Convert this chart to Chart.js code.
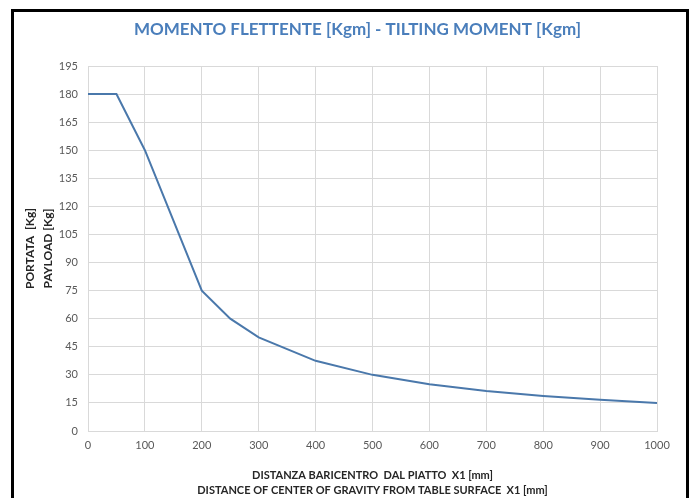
<!DOCTYPE html>
<html>
<head>
<meta charset="utf-8">
<script src="https://cdn.jsdelivr.net/npm/chart.js@4/dist/chart.umd.min.js"></script>
<style>
  html, body { margin: 0; padding: 0; background: #ffffff; }
  #frame { position: absolute; left: 11px; top: 9px; width: 672px; height: 500px; border: 3px solid #000; box-sizing: content-box; }
  #wrap { position: absolute; left: 0; top: 0; width: 690px; height: 498px; }
</style>
</head>
<body>
<div id="frame"></div>
<div id="wrap"><canvas id="c" width="690" height="498"></canvas></div>
<script>
const distances = [0, 50, 100, 200, 250, 300, 400, 500, 600, 700, 800, 900, 1000];
const payloads  = [180, 180, 150, 75, 60, 50, 37.5, 30, 25, 21.4, 18.75, 16.7, 15];
const chartTitle = 'MOMENTO FLETTENTE [Kgm] - TILTING MOMENT [Kgm]';
const yTitle = ['PORTATA  [Kg]', 'PAYLOAD [Kg]'];
const xTitle = ['DISTANZA BARICENTRO  DAL PIATTO  X1 [mm]', 'DISTANCE OF CENTER OF GRAVITY FROM TABLE SURFACE  X1 [mm]'];

const FONT = 'Lato, "Open Sans", sans-serif';
const points = distances.map((x, i) => ({ x: x, y: payloads[i] }));

new Chart(document.getElementById('c'), {
  type: 'line',
  data: {
    datasets: [{
      data: points,
      borderColor: '#4a78ab',
      borderWidth: 2,
      pointRadius: 0,
      tension: 0,
      fill: false
    }]
  },
  options: {
    responsive: false,
    animation: false,
    events: [],
    layout: { padding: { left: 58, right: 33, top: 0, bottom: 0 } },
    plugins: {
      legend: { display: false },
      tooltip: { enabled: false },
      title: {
        display: true,
        text: chartTitle,
        color: '#4a7ebb',
        font: { family: FONT, size: 17, weight: 'bold', lineHeight: '22px' },
        padding: { top: 19, bottom: 25 }
      }
    },
    scales: {
      x: {
        type: 'linear',
        min: 0, max: 1000,
        ticks: { stepSize: 100, color: '#595959', font: { family: FONT, size: 11 }, padding: 8, maxRotation: 0,
                 callback: (v) => String(v) },
        grid: { color: '#d9d9d9', drawTicks: false },
        border: { color: '#d9d9d9' },
        title: { display: true, text: xTitle, color: '#262626', font: { family: FONT, size: 11, weight: 'bold', lineHeight: '15px' }, padding: { top: 0, bottom: 0.5 } },
        afterFit: (s) => { s.height = 67; }
      },
      y: {
        type: 'linear',
        min: 0, max: 195,
        ticks: { stepSize: 15, color: '#595959', font: { family: FONT, size: 11 }, padding: 10,
                 callback: (v) => String(v) },
        grid: { color: '#d9d9d9', drawTicks: false },
        border: { color: '#d9d9d9' },
        title: { display: true, text: yTitle, color: '#262626', font: { family: FONT, size: 12, weight: 'bold', lineHeight: '18px' }, padding: { top: -37, bottom: 0 } },
        afterFit: (s) => { s.width = 30; }
      }
    }
  }
});
</script>
</body>
</html>
